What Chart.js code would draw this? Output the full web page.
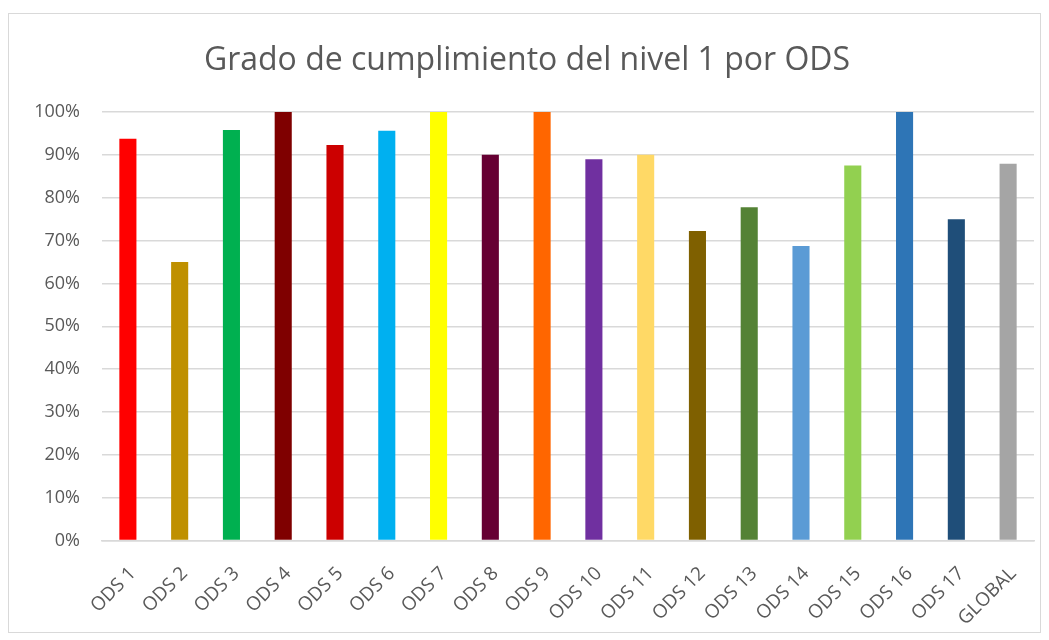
<!DOCTYPE html>
<html>
<head>
<meta charset="utf-8">
<script src="https://cdn.jsdelivr.net/npm/chart.js@4.4.1/dist/chart.umd.min.js"></script>
<style>
  html, body { margin: 0; padding: 0; background: #ffffff; }
  #wrap { position: absolute; left: 0; top: 0; width: 1049px; height: 640px; }
  #frame { position: absolute; left: 8px; top: 13px; width: 1033px; height: 620px; border: 1px solid #d9d9d9; box-sizing: border-box; }
</style>
</head>
<body>
<div id="wrap">
  <div id="frame"></div>
  <canvas id="c" width="1049" height="640"></canvas>
</div>
<script>
const categories = ["ODS 1","ODS 2","ODS 3","ODS 4","ODS 5","ODS 6","ODS 7","ODS 8","ODS 9","ODS 10","ODS 11","ODS 12","ODS 13","ODS 14","ODS 15","ODS 16","ODS 17","GLOBAL"];
const values = [0.9375, 0.65, 0.958, 1.0, 0.923, 0.956, 1.0, 0.90, 1.0, 0.89, 0.90, 0.722, 0.778, 0.6875, 0.875, 1.0, 0.75, 0.879];
const barColors = ["#FF0000","#BF9000","#00B050","#7F0000","#CC0000","#00B0F0","#FFFF00","#660033","#FF6600","#7030A0","#FFD966","#7F6000","#548235","#5B9BD5","#92D050","#2E75B6","#1F4E79","#A5A5A5"];
const titleText = "Grado de cumplimiento del nivel 1 por ODS";

const FONT = "'Open Sans', 'Noto Sans', sans-serif";
const TEXT = "#595959";

new Chart(document.getElementById('c'), {
  type: 'bar',
  data: {
    labels: categories,
    datasets: [{
      data: values,
      backgroundColor: barColors,
      borderWidth: 0,
      barPercentage: 0.33,
      categoryPercentage: 1.0
    }]
  },
  options: {
    responsive: false,
    animation: false,
    devicePixelRatio: 1,
    layout: { padding: { left: 20, right: 15, top: 0, bottom: 0 } },
    plugins: {
      legend: { display: false },
      tooltip: { enabled: false },
      title: {
        display: true,
        text: titleText,
        color: TEXT,
        font: { family: FONT, size: 32, weight: 'normal' },
        padding: { top: 42, bottom: 31.6 }
      }
    },
    scales: {
      x: {
        grid: { display: false, drawTicks: false },
        border: { display: true, color: '#d9d9d9', width: 1.5 },
        ticks: {
          color: TEXT,
          font: { family: FONT, size: 19 },
          minRotation: 45,
          maxRotation: 45,
          padding: 22,
          labelOffset: 5,
          autoSkip: false
        },
        afterFit: (s) => { s.height = 99.5; }
      },
      y: {
        min: 0,
        max: 1,
        ticks: {
          stepSize: 0.1,
          color: TEXT,
          font: { family: FONT, size: 18 },
          padding: 22,
          callback: (v) => Math.round(v * 100) + '%'
        },
        grid: { color: '#d9d9d9', lineWidth: 1.5, drawTicks: false },
        border: { display: false },
        afterFit: (s) => { s.width = 82; }
      }
    }
  }
});
</script>
</body>
</html>
